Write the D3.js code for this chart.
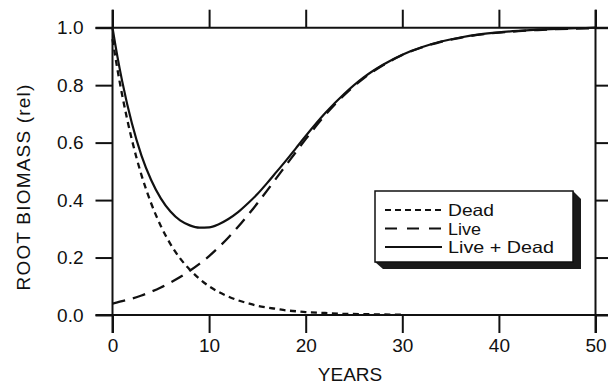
<!DOCTYPE html>
<html>
<head>
<meta charset="utf-8">
<script src="https://cdn.jsdelivr.net/npm/d3@7"></script>
<style>
  html, body { margin: 0; padding: 0; background: #fff; }
  svg { display: block; }
  text { font-family: "Liberation Sans", Arial, Helvetica, sans-serif; fill: #111; }
</style>
</head>
<body>
<svg id="chart" width="608" height="386"></svg>
<script>
// ---- Data ----
const years = [0, 0.5, 1, 2, 3, 4, 5, 6, 7, 8, 9, 10, 11, 12, 13, 14, 15, 16, 17, 18, 19, 20,
               22, 24, 26, 28, 30, 32, 34, 36, 38, 40, 42, 44, 46, 48, 50];
const dead = [0.960, 0.857, 0.766, 0.611, 0.487, 0.389, 0.310, 0.247, 0.197, 0.158, 0.126, 0.100,
              0.080, 0.064, 0.051, 0.041, 0.032, 0.026, 0.021, 0.016, 0.013, 0.010,
              0.007, 0.004, 0.003, 0.002, 0.001];
const live = [0.040, 0.044, 0.048, 0.057, 0.068, 0.081, 0.096, 0.113, 0.132, 0.154, 0.178, 0.205,
              0.236, 0.270, 0.307, 0.347, 0.389, 0.433, 0.478, 0.523, 0.568, 0.612,
              0.695, 0.766, 0.824, 0.869, 0.905, 0.931, 0.951, 0.965, 0.976, 0.983, 0.988,
              0.992, 0.995, 0.997, 0.998];
const total = [1.000, 0.901, 0.814, 0.668, 0.555, 0.470, 0.406, 0.360, 0.329, 0.312, 0.304, 0.305,
               0.316, 0.334, 0.358, 0.388, 0.421, 0.459, 0.499, 0.539, 0.581, 0.623,
               0.702, 0.770, 0.827, 0.871, 0.906, 0.932, 0.952, 0.966, 0.977, 0.984, 0.989,
               0.993, 0.996, 0.998, 1.000];
const xTicks = [0, 10, 20, 30, 40, 50];
const yTicks = [0.0, 0.2, 0.4, 0.6, 0.8, 1.0];
const legendLabels = ["Dead", "Live", "Live + Dead"];
const xTitle = "YEARS";
const yTitle = "ROOT BIOMASS (rel)";

// ---- Layout ----
const svg = d3.select("#chart");
const x = d3.scaleLinear().domain([0, 50]).range([112.5, 595.5]);
const y = d3.scaleLinear().domain([0, 1]).range([315, 27.7]);
const ink = "#111";
const fs = 19;

// frame lines extended past corners
const frame = svg.append("g").attr("stroke", ink).attr("stroke-width", 2);
frame.append("line").attr("x1", x(0)).attr("x2", x(0)).attr("y1", y(1) - 18).attr("y2", y(0) + 18);
frame.append("line").attr("x1", x(50)).attr("x2", x(50)).attr("y1", y(1) - 18).attr("y2", y(0) + 18);
frame.append("line").attr("x1", x(0) - 17).attr("x2", 608).attr("y1", y(0)).attr("y2", y(0));
frame.append("line").attr("x1", x(0) - 17).attr("x2", 608).attr("y1", y(1)).attr("y2", y(1));

function styleAxis(g) {
  g.select(".domain").remove();
  g.selectAll(".tick line").attr("stroke", ink).attr("stroke-width", 2);
  g.selectAll(".tick text").attr("font-size", fs).attr("fill", ink)
    .attr("font-family", '"Liberation Sans", Arial, Helvetica, sans-serif');
}

svg.append("g").attr("transform", `translate(0,${y(0)})`)
  .call(d3.axisBottom(x).tickValues(xTicks).tickSize(18).tickPadding(6).tickFormat(d3.format("d")))
  .call(styleAxis);
svg.append("g").attr("transform", `translate(0,${y(1)})`)
  .call(d3.axisTop(x).tickValues(xTicks).tickSize(18).tickFormat(""))
  .call(styleAxis);
svg.append("g").attr("transform", `translate(${x(0)},0)`)
  .call(d3.axisLeft(y).tickValues(yTicks).tickSize(17).tickPadding(12).tickFormat(d3.format(".1f")))
  .call(styleAxis);
svg.append("g").attr("transform", `translate(${x(50)},0)`)
  .call(d3.axisRight(y).tickValues(yTicks).tickSize(13).tickFormat(""))
  .call(styleAxis);

// titles
svg.append("text").attr("x", 350).attr("y", 381).attr("text-anchor", "middle")
  .attr("font-size", fs).text(xTitle);
svg.append("text").attr("transform", "translate(30,187) rotate(-90)")
  .attr("text-anchor", "middle").attr("font-size", fs).attr("letter-spacing", 1.2).text(yTitle);

// curves
const mk = (arr) => arr.map((v, i) => [years[i], v]);
const line = d3.line().x(d => x(d[0])).y(d => y(d[1])).curve(d3.curveMonotoneX);
const series = [
  { data: mk(dead), dash: "6,4.5", width: 2.3 },
  { data: mk(live), dash: "13,8", width: 2.3 },
  { data: mk(total), dash: null, width: 2.2 }
];
svg.append("g").selectAll("path").data(series).join("path")
  .attr("d", d => line(d.data))
  .attr("fill", "none").attr("stroke", ink)
  .attr("stroke-width", d => d.width)
  .attr("stroke-dasharray", d => d.dash);

// legend
const lg = svg.append("g");
const bx = 375, by = 191, bw = 198, bh = 71, sh = 8;
lg.append("polygon")
  .attr("points", [[bx + bw, by], [bx + bw + sh, by + sh], [bx + bw + sh, by + bh + sh - 1],
                   [bx + sh, by + bh + sh - 1], [bx, by + bh], [bx + bw, by + bh]].map(p => p.join(",")).join(" "))
  .attr("fill", "#1a1a1a");
lg.append("rect").attr("x", bx).attr("y", by).attr("width", bw).attr("height", bh)
  .attr("fill", "#fff").attr("stroke", ink).attr("stroke-width", 1.5);
const rowY = [210, 228.5, 247];
legendLabels.forEach((lab, i) => {
  lg.append("line").attr("x1", 385).attr("x2", 442).attr("y1", rowY[i]).attr("y2", rowY[i])
    .attr("stroke", ink).attr("stroke-width", 2)
    .attr("stroke-dasharray", i === 0 ? "6,4" : (i === 1 ? "12,10" : null));
  lg.append("text").attr("x", 448).attr("y", rowY[i] + 6).attr("font-size", 16.5)
    .attr("textLength", [46, 33, 106][i]).attr("lengthAdjust", "spacingAndGlyphs").text(lab);
});
</script>
</body>
</html>
